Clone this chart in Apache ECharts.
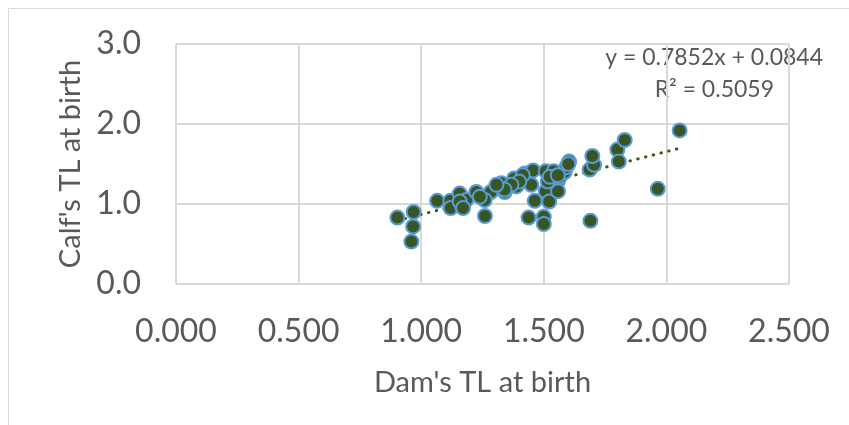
<!DOCTYPE html>
<html>
<head>
<meta charset="utf-8">
<script src="https://cdn.jsdelivr.net/npm/echarts@6/dist/echarts.min.js"></script>
<style>
  html, body { margin: 0; padding: 0; background: #ffffff; }
  #chart { width: 849px; height: 425px; }
</style>
</head>
<body>
<div id="chart"></div>
<script>
// Telomere length at birth: dam vs calf
const damTL = [
  0.903, 0.969, 0.967, 0.960, 1.065, 1.119, 1.120, 1.157, 1.167, 1.184,
  1.157, 1.225, 1.260, 1.284, 1.259, 1.327, 1.341, 1.379, 1.388, 1.422,
  1.436, 1.456, 1.449, 1.463, 1.438, 1.500, 1.500, 1.508, 1.508, 1.522,
  1.540, 1.558, 1.558, 1.565, 1.585, 1.592, 1.603, 1.687, 1.705, 1.698,
  1.690, 1.800, 1.806, 1.830, 1.965, 2.054, 1.516, 1.524, 1.414, 1.400,
  1.368, 1.340, 1.557, 1.307, 1.239, 1.171, 1.600
];
const calfTL = [
  0.83, 0.90, 0.72, 0.53, 1.04, 1.04, 0.95, 1.13, 0.97, 1.05,
  1.03, 1.15, 0.85, 1.15, 1.05, 1.26, 1.15, 1.32, 1.22, 1.38,
  1.28, 1.42, 1.24, 1.04, 0.83, 0.84, 0.75, 1.41, 1.16, 1.03,
  1.41, 1.29, 1.16, 1.34, 1.40, 1.46, 1.53, 1.43, 1.49, 1.60,
  0.79, 1.68, 1.53, 1.80, 1.19, 1.92, 1.28, 1.34, 1.36, 1.28,
  1.24, 1.18, 1.36, 1.24, 1.09, 0.95, 1.50
];

// Linear trendline coefficients
const slope = 0.7852;
const intercept = 0.0844;
const rSquared = 0.5059;

const xTicks = [0, 0.5, 1.0, 1.5, 2.0, 2.5];
const yTicks = [0, 1.0, 2.0, 3.0];

const points = damTL.map((x, i) => [x, calfTL[i]]);
const xMinData = Math.min(...damTL);
const xMaxData = Math.max(...damTL);
const trend = [
  [xMinData, slope * xMinData + intercept],
  [xMaxData, slope * xMaxData + intercept]
];

const textColor = '#595959';
const gridColor = '#d9d9d9';
const fontFamily = 'Lato, "Open Sans", sans-serif';

const chart = echarts.init(document.getElementById('chart'), null, { renderer: 'canvas' });
chart.setOption({
  backgroundColor: '#ffffff',
  animation: false,
  textStyle: { fontFamily: fontFamily },
  graphic: [
    {
      type: 'rect',
      shape: { x: 8.5, y: 8.5, width: 1000, height: 1000 },
      style: { fill: 'none', stroke: gridColor, lineWidth: 1 },
      silent: true,
      z: -10
    },
    {
      type: 'text',
      right: 26,
      top: 46,
      style: {
        text: 'y = ' + slope.toFixed(4) + 'x + ' + intercept.toFixed(4),
        fill: textColor,
        font: '23px ' + fontFamily,
        textAlign: 'right'
      }
    },
    {
      type: 'text',
      right: 75,
      top: 78,
      style: {
        text: 'R² = ' + rSquared.toFixed(4),
        fill: textColor,
        font: '23px ' + fontFamily,
        textAlign: 'right'
      }
    }
  ],
  grid: { left: 176, right: 60, top: 44, bottom: 141, containLabel: false },
  xAxis: {
    type: 'value',
    min: xTicks[0],
    max: xTicks[xTicks.length - 1],
    interval: 0.5,
    name: "Dam's TL at birth",
    nameLocation: 'middle',
    nameGap: 84,
    nameTextStyle: { color: textColor, fontSize: 29, fontFamily: fontFamily },
    axisLine: { show: false },
    axisTick: { show: false },
    axisLabel: {
      color: textColor,
      fontSize: 32,
      margin: 32,
      formatter: v => v.toFixed(3)
    },
    splitLine: { show: true, lineStyle: { color: gridColor, width: 2 } }
  },
  yAxis: {
    type: 'value',
    min: yTicks[0],
    max: yTicks[yTicks.length - 1],
    interval: 1,
    name: "Calf's TL at birth",
    nameLocation: 'middle',
    nameGap: 77,
    nameTextStyle: { color: textColor, fontSize: 29, fontFamily: fontFamily },
    axisLine: { show: false },
    axisTick: { show: false },
    axisLabel: {
      color: textColor,
      fontSize: 32,
      margin: 35,
      formatter: v => v.toFixed(1)
    },
    splitLine: { show: true, lineStyle: { color: gridColor, width: 2 } }
  },
  series: [
    {
      type: 'line',
      data: trend,
      symbol: 'none',
      z: 1,
      lineStyle: { color: '#375623', width: 3, type: [0.5, 7.5], cap: 'round' }
    },
    {
      type: 'scatter',
      data: points,
      symbol: 'circle',
      symbolSize: 14,
      z: 3,
      itemStyle: { color: '#375623', borderColor: '#5b9bd5', borderWidth: 2, opacity: 1 }
    }
  ]
});
</script>
</body>
</html>
